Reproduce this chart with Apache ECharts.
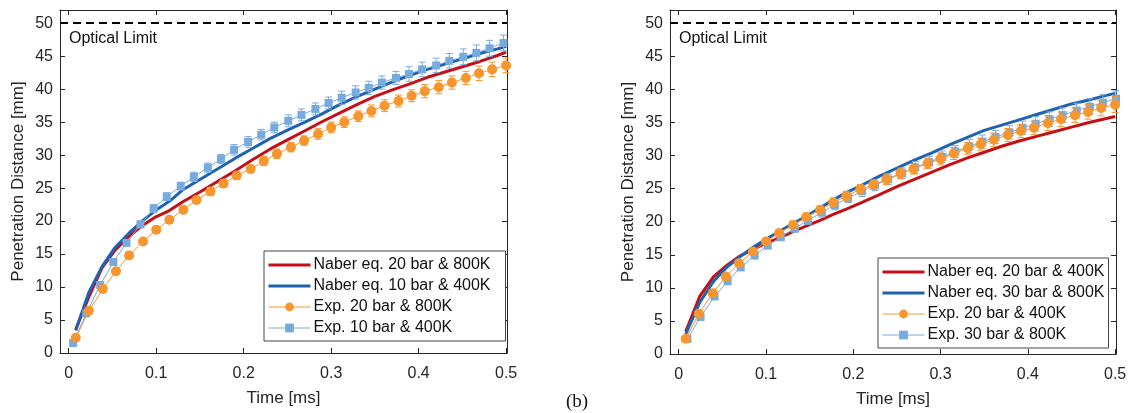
<!DOCTYPE html>
<html>
<head>
<meta charset="utf-8">
<script src="https://cdn.jsdelivr.net/npm/echarts@6/dist/echarts.min.js"></script>
<style>
  html, body { margin: 0; padding: 0; background: #fff; }
  #chart { width: 1131px; height: 413px; }
</style>
</head>
<body>
<div id="chart"></div>
<script>
// ---- tick labels ----
const xTicks = [0, 0.1, 0.2, 0.3, 0.4, 0.5];
const yTicks = [0, 5, 10, 15, 20, 25, 30, 35, 40, 45, 50];
const opticalLimit = 50;

// ---- experimental time stamps [ms] ----
const tOrange = [0.008, 0.023, 0.039, 0.054, 0.069, 0.085, 0.100, 0.115, 0.131, 0.146, 0.162, 0.177, 0.192, 0.208, 0.223, 0.238, 0.254, 0.269, 0.285, 0.300, 0.315, 0.331, 0.346, 0.361, 0.377, 0.392, 0.407, 0.423, 0.438, 0.454, 0.469, 0.484, 0.500];
const tBlueLeft = [0.005, 0.020, 0.036, 0.051, 0.066, 0.082, 0.097, 0.112, 0.128, 0.143, 0.159, 0.174, 0.189, 0.205, 0.220, 0.235, 0.251, 0.266, 0.282, 0.297, 0.312, 0.328, 0.343, 0.358, 0.374, 0.389, 0.404, 0.420, 0.435, 0.451, 0.466, 0.481, 0.497];
const tBlueRight = [0.010, 0.025, 0.041, 0.056, 0.071, 0.087, 0.102, 0.117, 0.133, 0.148, 0.164, 0.179, 0.194, 0.210, 0.225, 0.240, 0.256, 0.271, 0.287, 0.302, 0.317, 0.333, 0.348, 0.363, 0.379, 0.394, 0.409, 0.425, 0.440, 0.456, 0.471, 0.486, 0.501];

// ---- left panel: experiments [mm] ----
const expLeft20 = [2.3, 6.4, 9.7, 12.4, 14.8, 16.9, 18.7, 20.2, 21.7, 23.2, 24.5, 25.7, 26.9, 27.9, 29.1, 30.2, 31.2, 32.2, 33.2, 34.2, 35.0, 35.9, 36.7, 37.5, 38.2, 39.0, 39.7, 40.3, 41.0, 41.7, 42.4, 43.0, 43.6];
const errLeft20 = [0.3, 0.3, 0.3, 0.4, 0.4, 0.4, 0.5, 0.5, 0.5, 0.5, 0.6, 0.6, 0.6, 0.6, 0.7, 0.7, 0.7, 0.7, 0.8, 0.8, 0.8, 0.8, 0.9, 0.9, 0.9, 0.9, 1.0, 1.0, 1.0, 1.0, 1.1, 1.1, 1.1];
const expLeft10 = [1.5, 6.0, 10.3, 13.8, 16.7, 19.5, 21.9, 23.7, 25.3, 26.7, 28.1, 29.4, 30.8, 32.0, 33.1, 34.2, 35.2, 36.1, 37.0, 37.9, 38.7, 39.5, 40.2, 41.0, 41.7, 42.3, 43.0, 43.6, 44.3, 44.9, 45.5, 46.2, 47.0];
const errLeft10 = [0.3, 0.3, 0.4, 0.4, 0.5, 0.5, 0.6, 0.6, 0.6, 0.7, 0.7, 0.7, 0.8, 0.8, 0.8, 0.8, 0.9, 0.9, 0.9, 0.9, 1.0, 1.0, 1.0, 1.0, 1.0, 1.1, 1.1, 1.1, 1.1, 1.2, 1.2, 1.2, 1.2];

// ---- left panel: Naber correlation [mm] ----
const tNaberLeft = [0.008, 0.023, 0.038, 0.053, 0.069, 0.084, 0.099, 0.115, 0.13, 0.15, 0.17, 0.19, 0.21, 0.23, 0.25, 0.27, 0.29, 0.31, 0.33, 0.35, 0.37, 0.39, 0.41, 0.43, 0.45, 0.47, 0.49, 0.5];
const naberLeft20 = [3.6, 8.5, 12.9, 15.6, 17.7, 19.3, 20.6, 21.6, 22.9, 24.4, 26.0, 27.6, 29.3, 30.9, 32.3, 33.7, 35.1, 36.4, 37.7, 38.9, 39.9, 40.8, 41.8, 42.6, 43.4, 44.2, 45.1, 45.6];
const naberLeft10 = [3.4, 9.2, 13.1, 16.0, 18.2, 20.0, 21.6, 23.0, 24.7, 26.3, 27.9, 29.5, 31.0, 32.5, 33.8, 35.0, 36.3, 37.7, 38.9, 40.0, 41.1, 42.1, 43.0, 43.8, 44.6, 45.4, 46.1, 46.5];

// ---- right panel: experiments [mm] ----
const expRight20 = [2.3, 6.1, 9.2, 11.7, 13.7, 15.5, 17.0, 18.3, 19.5, 20.7, 21.8, 22.9, 23.9, 24.9, 25.6, 26.4, 27.3, 28.0, 28.8, 29.5, 30.3, 31.1, 31.7, 32.4, 33.1, 33.7, 34.2, 34.9, 35.5, 36.1, 36.6, 37.2, 37.7];
const errRight20 = [0.3, 0.3, 0.4, 0.4, 0.4, 0.5, 0.5, 0.5, 0.6, 0.6, 0.6, 0.7, 0.7, 0.7, 0.7, 0.8, 0.8, 0.8, 0.8, 0.9, 0.9, 0.9, 0.9, 1.0, 1.0, 1.0, 1.0, 1.1, 1.1, 1.1, 1.1, 1.2, 1.2];
const expRight30 = [2.3, 5.6, 8.7, 11.0, 13.1, 14.9, 16.4, 17.7, 19.0, 20.2, 21.4, 22.5, 23.6, 24.6, 25.5, 26.4, 27.3, 28.2, 29.0, 29.8, 30.6, 31.4, 32.1, 32.8, 33.5, 34.2, 34.8, 35.5, 36.1, 36.8, 37.4, 38.0, 38.6];
const errRight30 = [0.3, 0.3, 0.4, 0.4, 0.5, 0.5, 0.5, 0.6, 0.6, 0.6, 0.7, 0.7, 0.7, 0.8, 0.8, 0.8, 0.8, 0.9, 0.9, 0.9, 0.9, 1.0, 1.0, 1.0, 1.0, 1.0, 1.1, 1.1, 1.1, 1.1, 1.2, 1.2, 1.2];

// ---- right panel: Naber correlation [mm] ----
const tNaberRight = [0.008, 0.024, 0.040, 0.055, 0.070, 0.086, 0.101, 0.116, 0.131, 0.147, 0.162, 0.177, 0.192, 0.208, 0.23, 0.25, 0.27, 0.29, 0.31, 0.33, 0.35, 0.37, 0.39, 0.41, 0.43, 0.45, 0.47, 0.49, 0.5];
const naberRight20 = [3.4, 8.7, 11.7, 13.4, 14.8, 15.9, 16.8, 17.6, 18.5, 19.4, 20.2, 21.1, 21.9, 22.8, 24.1, 25.3, 26.4, 27.5, 28.6, 29.6, 30.5, 31.4, 32.2, 32.9, 33.6, 34.3, 35.0, 35.6, 35.9];
const naberRight30 = [3.0, 7.8, 11.0, 13.1, 14.7, 16.2, 17.4, 18.6, 19.7, 20.9, 22.1, 23.3, 24.4, 25.4, 26.9, 28.1, 29.3, 30.4, 31.6, 32.7, 33.8, 34.6, 35.4, 36.2, 37.0, 37.8, 38.4, 39.1, 39.4];

// ---- styling ----
const FONT = 'Liberation Sans, Arial, sans-serif';
const AXIS = '#262626';
const RED = '#c40f17';
const BLUE = '#1f63b0';
const ORANGE = '#f7962e';
const LIGHTBLUE = '#78abdd';

const pairs = (ts, vs) => ts.map((t, i) => [t, vs[i]]);
const bars = (ts, vs, es) => ts.map((t, i) => [t, vs[i] - es[i], vs[i] + es[i]]);

function errorBarRenderer(color) {
  return function (params, api) {
    const x = api.value(0);
    const lo = api.coord([x, api.value(1)]);
    const hi = api.coord([x, api.value(2)]);
    const w = 3.5;
    const style = { stroke: color, lineWidth: 1 };
    return {
      type: 'group',
      children: [
        { type: 'line', shape: { x1: lo[0], y1: lo[1], x2: hi[0], y2: hi[1] }, style },
        { type: 'line', shape: { x1: lo[0] - w, y1: lo[1], x2: lo[0] + w, y2: lo[1] }, style },
        { type: 'line', shape: { x1: hi[0] - w, y1: hi[1], x2: hi[0] + w, y2: hi[1] }, style }
      ]
    };
  };
}

const axisLine = { onZero: false, lineStyle: { color: AXIS, width: 1 } };
const tickStyle = { color: AXIS, width: 1 };

function xAxes(gridIndex) {
  const base = { gridIndex, type: 'value', min: -0.01, max: 0.501, splitLine: { show: false }, axisLine };
  return [
    Object.assign({}, base, {
      position: 'bottom',
      axisTick: { inside: true, length: 5, customValues: xTicks, lineStyle: tickStyle },
      axisLabel: { customValues: xTicks, fontSize: 16, color: AXIS, fontFamily: FONT, margin: 13 },
      name: 'Time [ms]', nameLocation: 'middle', nameGap: 37,
      nameTextStyle: { fontSize: 17, color: AXIS, fontFamily: FONT }
    }),
    Object.assign({}, base, {
      position: 'top',
      axisTick: { inside: true, length: 5, customValues: xTicks, lineStyle: tickStyle },
      axisLabel: { show: false }
    })
  ];
}

function yAxes(gridIndex) {
  const base = { gridIndex, type: 'value', min: 0, max: 52, splitLine: { show: false }, axisLine };
  return [
    Object.assign({}, base, {
      position: 'left',
      axisTick: { inside: true, length: 5, customValues: yTicks, lineStyle: tickStyle },
      axisLabel: { customValues: yTicks, fontSize: 16, color: AXIS, fontFamily: FONT, margin: 7 },
      name: 'Penetration Distance [mm]', nameLocation: 'middle', nameGap: 33,
      nameTextStyle: { fontSize: 17, color: AXIS, fontFamily: FONT }
    }),
    Object.assign({}, base, {
      position: 'right',
      axisTick: { inside: true, length: 5, customValues: yTicks, lineStyle: tickStyle },
      axisLabel: { show: false }
    })
  ];
}

function panelSeries(p) {
  const xi = p.axis, yi = p.axis;
  return [
    {
      type: 'line', name: '__limit', xAxisIndex: xi, yAxisIndex: yi, data: [], z: 1,
      markLine: {
        silent: true, symbol: 'none', label: { show: false },
        lineStyle: { color: '#000', type: [8, 5], width: 2 },
        data: [{ yAxis: opticalLimit }]
      }
    },
    {
      type: 'line', name: p.naberA.name, xAxisIndex: xi, yAxisIndex: yi, z: 2,
      data: pairs(p.naberA.t, p.naberA.v), symbol: 'none',
      lineStyle: { color: RED, width: 3 }, itemStyle: { color: RED }
    },
    {
      type: 'line', name: p.naberB.name, xAxisIndex: xi, yAxisIndex: yi, z: 2,
      data: pairs(p.naberB.t, p.naberB.v), symbol: 'none',
      lineStyle: { color: BLUE, width: 3 }, itemStyle: { color: BLUE }
    },
    {
      type: 'custom', name: p.expB.name + ' err', xAxisIndex: xi, yAxisIndex: yi, z: 3,
      renderItem: errorBarRenderer(LIGHTBLUE), encode: { x: 0, y: [1, 2] },
      data: bars(p.expB.t, p.expB.v, p.expB.e)
    },
    {
      type: 'line', name: p.expB.name, xAxisIndex: xi, yAxisIndex: yi, z: 4,
      data: pairs(p.expB.t, p.expB.v), symbol: 'rect', symbolSize: 8, showAllSymbol: true,
      lineStyle: { color: LIGHTBLUE, width: 1 }, itemStyle: { color: LIGHTBLUE }
    },
    {
      type: 'custom', name: p.expA.name + ' err', xAxisIndex: xi, yAxisIndex: yi, z: 5,
      renderItem: errorBarRenderer(ORANGE), encode: { x: 0, y: [1, 2] },
      data: bars(p.expA.t, p.expA.v, p.expA.e)
    },
    {
      type: 'line', name: p.expA.name, xAxisIndex: xi, yAxisIndex: yi, z: 6,
      data: pairs(p.expA.t, p.expA.v), symbol: 'circle', symbolSize: 10, showAllSymbol: true,
      lineStyle: { color: ORANGE, width: 1 }, itemStyle: { color: ORANGE }
    }
  ];
}

const leftPanel = {
  axis: 0,
  naberA: { name: 'Naber eq. 20 bar & 800K', t: tNaberLeft, v: naberLeft20 },
  naberB: { name: 'Naber eq. 10 bar & 400K', t: tNaberLeft, v: naberLeft10 },
  expA: { name: 'Exp. 20 bar & 800K', t: tOrange, v: expLeft20, e: errLeft20 },
  expB: { name: 'Exp. 10 bar & 400K', t: tBlueLeft, v: expLeft10, e: errLeft10 }
};
const rightPanel = {
  axis: 2,
  naberA: { name: 'Naber eq. 20 bar & 400K', t: tNaberRight, v: naberRight20 },
  naberB: { name: 'Naber eq. 30 bar & 800K', t: tNaberRight, v: naberRight30 },
  expA: { name: 'Exp. 20 bar & 400K', t: tOrange, v: expRight20, e: errRight20 },
  expB: { name: 'Exp. 30 bar & 800K', t: tBlueRight, v: expRight30, e: errRight30 }
};

// line-only legend entries for the correlation curves
const hideSymbol = { opacity: 0 };

function legendFor(p, left, top, padRight) {
  return {
    orient: 'vertical', left, top,
    data: [
      { name: p.naberA.name, itemStyle: hideSymbol },
      { name: p.naberB.name, itemStyle: hideSymbol },
      { name: p.expA.name },
      { name: p.expB.name }
    ],
    itemWidth: 42, itemHeight: 11, itemGap: 5,
    padding: [6, padRight, 5, 3],
    lineStyle: { width: 'inherit' },
    backgroundColor: '#fff', borderColor: '#444', borderWidth: 1, borderRadius: 0,
    selectedMode: false,
    textStyle: { fontSize: 16, color: '#111', fontFamily: FONT, padding: [0, 0, 0, -2] }
  };
}

const chart = echarts.init(document.getElementById('chart'), null, { renderer: 'canvas' });
chart.setOption({
  animation: false,
  backgroundColor: '#fff',
  grid: [
    { left: 60, top: 10, width: 447, height: 343 },
    { left: 670, top: 10, width: 446, height: 344 }
  ],
  xAxis: xAxes(0).concat(xAxes(1)),
  yAxis: yAxes(0).concat(yAxes(1)),
  legend: [legendFor(leftPanel, 264, 251, 15), legendFor(rightPanel, 878, 258, 4)],
  series: panelSeries(leftPanel).concat(panelSeries(rightPanel)),
  graphic: [
    { type: 'text', left: 69, top: 31, style: { text: 'Optical Limit', fontSize: 16, fill: '#111', fontFamily: FONT } },
    { type: 'text', left: 679, top: 31, style: { text: 'Optical Limit', fontSize: 16, fill: '#111', fontFamily: FONT } },
    { type: 'text', left: 566, top: 393, style: { text: '(b)', fontSize: 19, fill: '#111', fontFamily: 'Liberation Serif, Times New Roman, serif' } }
  ]
});
</script>
</body>
</html>
